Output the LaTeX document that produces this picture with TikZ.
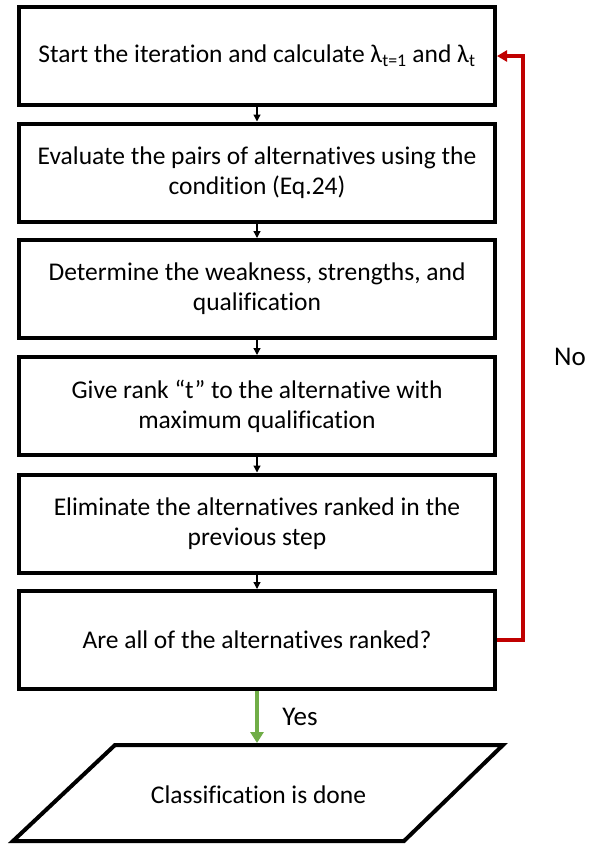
\documentclass[tikz,border=0pt]{standalone}
\usepackage{fontspec}
\setmainfont{Carlito}[Ligatures=NoCommon]
\usepackage{xcolor}
\usetikzlibrary{arrows.meta}

\definecolor{loopred}{HTML}{C00000}
\definecolor{yesgreen}{HTML}{70AD47}

\begin{document}
\begin{tikzpicture}[
    x=1pt, y=-1pt,
    stepbox/.style={draw, line width=4pt, minimum width=476pt, minimum height=98pt, align=center, font=\fontsize{25.5}{30}\selectfont},
    arr/.style={-{Triangle[length=7pt, width=7pt]}, line width=1.3pt},
    lbl/.style={font=\fontsize{27}{30}\selectfont}
  ]
  \useasboundingbox (0,0) rectangle (593,847);

  \node[stepbox] (s1) at (257,56) {Start the iteration and calculate λ\textsubscript{t=1} and λ\textsubscript{t}};
  \node[stepbox] (s2) at (257,172.5) {Evaluate the pairs of alternatives using the\\condition (Eq.24)};
  \node[stepbox] (s3) at (257,289) {Determine the weakness, strengths, and\\qualification};
  \node[stepbox] (s4) at (257,406) {Give rank “t” to the alternative with\\maximum qualification};
  \node[stepbox] (s5) at (257,523.5) {Eliminate the alternatives ranked in the\\previous step};
  \node[stepbox] (s6) at (257,640) {Are all of the alternatives ranked?};

  % output parallelogram
  \node[font=\fontsize{25.5}{30}\selectfont] (done) at (258.5,795) {Classification is done};
  \draw[line width=4pt, line join=miter] (115,745) -- (503,745) -- (404,841) -- (13,841) -- cycle;
  \coordinate (donetop) at (257,743);

  \draw[arr] (s1) -- (s2);
  \draw[arr] (s2) -- (s3);
  \draw[arr] (s3) -- (s4);
  \draw[arr] (s4) -- (s5);
  \draw[arr] (s5) -- (s6);

  % yes / no branches
  \draw[yesgreen, line width=4pt, -{Triangle[length=11pt, width=13pt]}] (s6.south) -- node[lbl, right=20pt, text=black] (yes) {Yes} (donetop);
  \draw[loopred, line width=3.5pt, -{Triangle[length=10pt, width=11pt]}] (s6.east) -- ++(26,0) |- (s1.east);
  \node[lbl] (no) at (570,357) {No};
\end{tikzpicture}
\end{document}
